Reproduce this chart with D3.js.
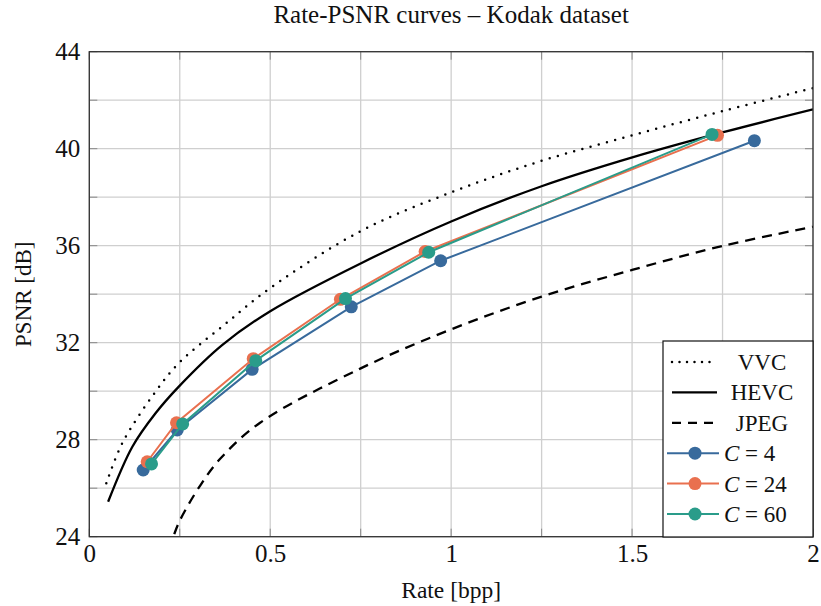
<!DOCTYPE html>
<html>
<head>
<meta charset="utf-8">
<script src="https://cdn.jsdelivr.net/npm/d3@7"></script>
<style>
  body { margin: 0; background: #fff; }
  svg text { font-family: "Liberation Serif", "Times New Roman", serif; fill: #111; }
</style>
</head>
<body>
<script>
var width = 821, height = 606;
var margin = {top: 51.7, right: 8, bottom: 69.3, left: 89.3};
var innerW = width - margin.left - margin.right;
var innerH = height - margin.top - margin.bottom;

// reference codecs (rate in bpp, PSNR in dB)
var vvcRate = [0.047, 0.091, 0.183, 0.25, 0.37, 0.5, 0.75, 1.0, 1.25, 1.5, 1.75, 2.0];
var vvcPsnr = [26.2, 27.85, 29.98, 31.2, 32.7, 34.25, 36.6, 38.2, 39.5, 40.55, 41.55, 42.5];
var hevcRate = [0.052, 0.119, 0.183, 0.248, 0.367, 0.5, 0.754, 1.0, 1.25, 1.503, 1.752, 2.0];
var hevcPsnr = [25.44, 27.71, 29.09, 30.2, 31.9, 33.3, 35.3, 37.0, 38.45, 39.65, 40.68, 41.62];
var jpegRate = [0.218, 0.232, 0.251, 0.306, 0.361, 0.472, 0.75, 1.0, 1.25, 1.5, 1.75, 2.0];
var jpegPsnr = [23.45, 24.0, 24.69, 26.1, 27.2, 28.7, 30.94, 32.55, 33.9, 35.0, 35.99, 36.78];

// our models
var c4Rate = [0.149, 0.243, 0.45, 0.724, 0.971, 1.838];
var c4Psnr = [26.75, 28.4, 30.9, 33.48, 35.38, 40.33];
var c24Rate = [0.16, 0.241, 0.453, 0.694, 0.928, 1.736];
var c24Psnr = [27.09, 28.7, 31.34, 33.79, 35.76, 40.55];
var c60Rate = [0.172, 0.258, 0.46, 0.708, 0.938, 1.721];
var c60Psnr = [27.0, 28.65, 31.26, 33.82, 35.73, 40.59];

var xTicks = [0, 0.5, 1, 1.5, 2];
var yTicks = [24, 28, 32, 36, 40, 44];

var svg = d3.select('body').append('svg')
    .attr('width', width).attr('height', height);

var x = d3.scaleLinear().domain([0, 2]).range([0, innerW]);
var y = d3.scaleLinear().domain([24, 44]).range([innerH, 0]);

var g = svg.append('g').attr('transform', 'translate(' + margin.left + ',' + margin.top + ')');

svg.append('defs').append('clipPath').attr('id', 'clip')
  .append('rect').attr('width', innerW).attr('height', innerH);

// grid
var xGrid = d3.range(0, 2.001, 0.25), yGrid = d3.range(24, 44.001, 2);
g.selectAll('.vg').data(xGrid).enter().append('line')
  .attr('x1', x).attr('x2', x).attr('y1', 0).attr('y2', innerH)
  .attr('stroke', '#cfcfcf').attr('stroke-width', 1.3);
g.selectAll('.hg').data(yGrid).enter().append('line')
  .attr('y1', y).attr('y2', y).attr('x1', 0).attr('x2', innerW)
  .attr('stroke', '#cfcfcf').attr('stroke-width', 1.3);

// inward ticks on all sides
var tl = 8;
[['bottom', innerH, -1], ['top', 0, 1]].forEach(function(s) {
  g.selectAll('.t' + s[0]).data(xGrid).enter().append('line')
    .attr('x1', x).attr('x2', x).attr('y1', s[1]).attr('y2', s[1] + s[2] * tl)
    .attr('stroke', '#888').attr('stroke-width', 1);
});
[['left', 0, 1], ['right', innerW, -1]].forEach(function(s) {
  g.selectAll('.t' + s[0]).data(yGrid).enter().append('line')
    .attr('y1', y).attr('y2', y).attr('x1', s[1]).attr('x2', s[1] + s[2] * tl)
    .attr('stroke', '#888').attr('stroke-width', 1);
});

// axes labels
var xAxis = g.append('g').attr('transform', 'translate(0,' + innerH + ')')
  .call(d3.axisBottom(x).tickValues(xTicks).tickSize(0).tickPadding(8).tickFormat(d3.format('')));
var yAxis = g.append('g')
  .call(d3.axisLeft(y).tickValues(yTicks).tickSize(0).tickPadding(9));
[xAxis, yAxis].forEach(function(a) {
  a.select('.domain').remove();
  a.selectAll('text').style('font-size', '25px').attr('fill', '#111')
    .style('font-family', '"Liberation Serif", serif');
});

function series(rx, ry) {
  return rx.map(function(r, i) { return [r, ry[i]]; });
}
var smooth = d3.line().x(function(d) { return x(d[0]); }).y(function(d) { return y(d[1]); })
  .curve(d3.curveCatmullRom.alpha(0.5));
var straight = d3.line().x(function(d) { return x(d[0]); }).y(function(d) { return y(d[1]); });

var plot = g.append('g').attr('clip-path', 'url(#clip)');

var refs = [
  {name: 'VVC', data: series(vvcRate, vvcPsnr), dash: '0,8.5', cap: 'round', w: 2.5},
  {name: 'HEVC', data: series(hevcRate, hevcPsnr), dash: null, cap: 'butt', w: 2.3},
  {name: 'JPEG', data: series(jpegRate, jpegPsnr), dash: '10,7', cap: 'butt', w: 2.3}
];
refs.forEach(function(r) {
  plot.append('path').datum(r.data).attr('d', smooth)
    .attr('fill', 'none').attr('stroke', '#000').attr('stroke-width', r.w)
    .attr('stroke-dasharray', r.dash).attr('stroke-linecap', r.cap);
});

var models = [
  {name: '4', data: series(c4Rate, c4Psnr), color: '#386a9c'},
  {name: '24', data: series(c24Rate, c24Psnr), color: '#e9704f'},
  {name: '60', data: series(c60Rate, c60Psnr), color: '#2a9c8a'}
];
models.forEach(function(m) {
  plot.append('path').datum(m.data).attr('d', straight)
    .attr('fill', 'none').attr('stroke', m.color).attr('stroke-width', 2);
  plot.selectAll(null).data(m.data).enter().append('circle')
    .attr('cx', function(d) { return x(d[0]); })
    .attr('cy', function(d) { return y(d[1]); })
    .attr('r', 6.5).attr('fill', m.color);
});

// frame
g.append('rect').attr('width', innerW).attr('height', innerH)
  .attr('fill', 'none').attr('stroke', '#333').attr('stroke-width', 1.3);

// legend
var lg = svg.append('g').attr('transform', 'translate(663,341)');
lg.append('rect').attr('width', 150).attr('height', 196)
  .attr('fill', '#fff').attr('stroke', '#111').attr('stroke-width', 1.2);
var rowY = function(i) { return 21 + i * 30.4; };
refs.forEach(function(r, i) {
  lg.append('line').attr('x1', 9).attr('x2', 54).attr('y1', rowY(i)).attr('y2', rowY(i))
    .attr('stroke', '#000').attr('stroke-width', r.w)
    .attr('stroke-dasharray', r.dash === '10,7' ? '9,7' : (r.dash ? '0,7.5' : null))
    .attr('stroke-linecap', r.cap);
  lg.append('text').attr('x', 99).attr('y', rowY(i)).attr('dy', '0.35em')
    .attr('text-anchor', 'middle').style('font-size', '23px').text(r.name);
});
models.forEach(function(m, j) {
  var i = j + 3;
  lg.append('line').attr('x1', 4).attr('x2', 56).attr('y1', rowY(i)).attr('y2', rowY(i))
    .attr('stroke', m.color).attr('stroke-width', 2);
  lg.append('circle').attr('cx', 32).attr('cy', rowY(i)).attr('r', 6.5).attr('fill', m.color);
  var t = lg.append('text').attr('x', 61).attr('y', rowY(i)).attr('dy', '0.35em')
    .style('font-size', '23px');
  t.append('tspan').style('font-style', 'italic').text('C');
  t.append('tspan').text(' = ' + m.name);
});

// titles
svg.append('text').attr('x', margin.left + innerW / 2).attr('y', 23)
  .attr('text-anchor', 'middle').style('font-size', '25px')
  .text('Rate-PSNR curves \u2013 Kodak dataset');
svg.append('text').attr('x', margin.left + innerW / 2).attr('y', 598)
  .attr('text-anchor', 'middle').style('font-size', '23.5px').text('Rate [bpp]');
svg.append('text').attr('transform', 'translate(31,' + (margin.top + innerH / 2) + ') rotate(-90)')
  .attr('text-anchor', 'middle').style('font-size', '23px').text('PSNR [dB]');
</script>
</body>
</html>
